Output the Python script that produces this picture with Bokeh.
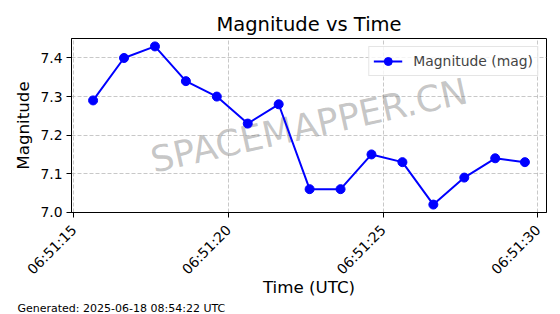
import math
import pandas as pd
from bokeh.plotting import figure
from bokeh.models import (Range1d, FixedTicker, DatetimeTickFormatter, NumeralTickFormatter,
                          Title, Legend, LegendItem, ColumnDataSource)
from bokeh.core.properties import value
from bokeh.embed import file_html
from bokeh.resources import INLINE

# ---- data ----
times = [
    "2025-06-18 06:51:15.62", "2025-06-18 06:51:16.62", "2025-06-18 06:51:17.62",
    "2025-06-18 06:51:18.62", "2025-06-18 06:51:19.62", "2025-06-18 06:51:20.62",
    "2025-06-18 06:51:21.62", "2025-06-18 06:51:22.62", "2025-06-18 06:51:23.62",
    "2025-06-18 06:51:24.62", "2025-06-18 06:51:25.62", "2025-06-18 06:51:26.62",
    "2025-06-18 06:51:27.62", "2025-06-18 06:51:28.62", "2025-06-18 06:51:29.58",
]
magnitudes = [7.29, 7.40, 7.43, 7.34, 7.30, 7.23, 7.28, 7.06, 7.06, 7.15, 7.13, 7.02, 7.09, 7.14, 7.13]
x_tick_times = ["2025-06-18 06:51:15", "2025-06-18 06:51:20", "2025-06-18 06:51:25", "2025-06-18 06:51:30"]
y_ticks = [7.0, 7.1, 7.2, 7.3, 7.4]
title_text = "Magnitude vs Time"
x_label = "Time (UTC)"
y_label = "Magnitude"
series_label = "Magnitude (mag)"
watermark_text = "SPACEMAPPER.CN"
footer_text = "Generated: 2025-06-18 08:54:22 UTC"

FONT = "DejaVu Sans"

def to_ms(strings):
    t = pd.to_datetime(pd.Series(strings))
    return list((t - pd.Timestamp("1970-01-01")) / pd.Timedelta(milliseconds=1))

x_ms = to_ms(times)
tick_ms = to_ms(x_tick_times)

xmin, xmax = min(x_ms), max(x_ms)
xpad = (xmax - xmin) * 0.05
ymin, ymax = min(magnitudes), max(magnitudes)
ypad = (ymax - ymin) * 0.05

src = ColumnDataSource(dict(x=x_ms, y=magnitudes))

p = figure(width=560, height=314, x_axis_type="datetime",
           output_backend="svg", toolbar_location=None,
           x_range=Range1d(xmin - xpad, xmax + xpad),
           y_range=Range1d(ymin - ypad, ymax + ypad),
           min_border_left=71, min_border_right=14,
           min_border_top=38, min_border_bottom=102)

p.title.text = title_text
p.title.align = "center"
p.title.text_font = FONT
p.title.text_font_size = "19.5px"
p.title.text_font_style = "normal"
p.title.text_color = "black"
p.title.standoff = 5

p.outline_line_color = "black"
p.outline_line_width = 1
p.background_fill_color = "white"
p.border_fill_color = "white"

# watermark
xc = (p.x_range.start + p.x_range.end) / 2
yc = (p.y_range.start + p.y_range.end) / 2
p.text(x=[xc], y=[yc], text=[watermark_text], angle=math.radians(12.5),
       text_align="center", text_baseline="middle",
       text_font=value(FONT), text_font_size="36px",
       text_color="gray", text_alpha=0.45)

r_line = p.line("x", "y", source=src, line_color="#0000ff", line_width=2)
r_pts = p.scatter("x", "y", source=src, size=9, fill_color="#0000ff", line_color="#0000ff")

legend = Legend(items=[LegendItem(label=series_label, renderers=[r_line, r_pts])],
                location="top_right")
legend.label_text_font = FONT
legend.label_text_font_size = "13.9px"
legend.border_line_color = "#cccccc"
legend.border_line_width = 1
legend.background_fill_alpha = 0.8
legend.margin = 8
legend.padding = 4
legend.spacing = 0
legend.glyph_width = 29
legend.glyph_height = 20
legend.label_standoff = 11
legend.label_height = 16
p.add_layout(legend, "center")

# axes
p.xaxis.ticker = FixedTicker(ticks=tick_ms)
fmt = "%H:%M:%S"
p.xaxis.formatter = DatetimeTickFormatter(milliseconds=fmt, seconds=fmt, minsec=fmt,
                                          minutes=fmt, hourmin=fmt, hours=fmt)
p.xaxis.major_label_orientation = math.pi / 4
p.yaxis.ticker = FixedTicker(ticks=y_ticks)
p.yaxis.formatter = NumeralTickFormatter(format="0.0")

p.xaxis.axis_label = x_label
p.yaxis.axis_label = y_label
for ax in (p.xaxis, p.yaxis):
    ax.axis_label_text_font = FONT
    ax.axis_label_text_font_size = "16.7px"
    ax.axis_label_text_font_style = "normal"
    ax.axis_label_text_color = "black"
    ax.major_label_text_font = FONT
    ax.major_label_text_font_size = "13.9px"
    ax.major_label_text_color = "black"
    ax.major_tick_out = 5
    ax.major_tick_in = 0
    ax.minor_tick_line_color = None
    ax.major_tick_line_color = "black"
    ax.axis_line_color = "black"
    ax.major_label_standoff = 4
p.xaxis.major_label_standoff = 10
p.xaxis.axis_label_standoff = -9
p.yaxis.axis_label_standoff = 4

p.grid.grid_line_color = "#b0b0b0"
p.grid.grid_line_alpha = 0.7
p.grid.grid_line_dash = "4 2"
p.grid.grid_line_width = 1

footer = Title(text=footer_text, align="left", offset=-54,
               text_font=FONT, text_font_size="11px", text_color="black",
               text_font_style="normal", standoff=0)
p.add_layout(footer, "below")

open("out.html", "w").write(file_html(p, INLINE))
